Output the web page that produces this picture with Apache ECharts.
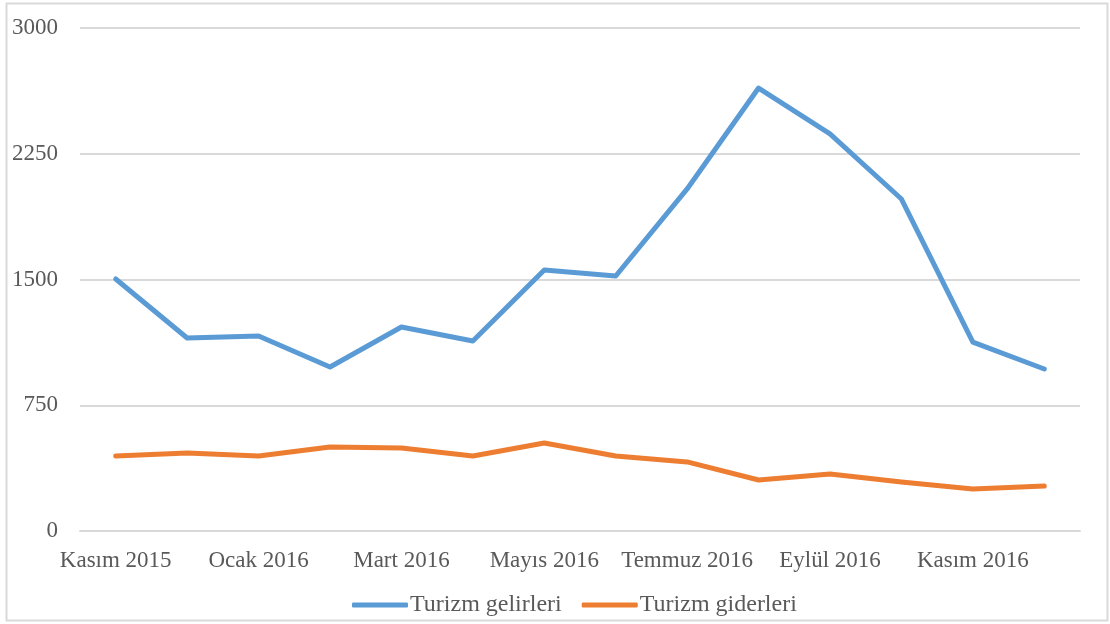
<!DOCTYPE html>
<html><head><meta charset="utf-8">
<script src="https://cdn.jsdelivr.net/npm/echarts@6/dist/echarts.min.js"></script>
<style>html,body{margin:0;padding:0;background:#fff}#c{width:1110px;height:624px}</style>
</head><body><div id="c"></div>
<script>
const categories = ['Kasım 2015','Aralık 2015','Ocak 2016','Şubat 2016','Mart 2016','Nisan 2016','Mayıs 2016','Haziran 2016','Temmuz 2016','Ağustos 2016','Eylül 2016','Ekim 2016','Kasım 2016','Aralık 2016'];
const gelirler = [1503, 1151, 1163, 978, 1217, 1133, 1557, 1521, 2040, 2642, 2368, 1980, 1127, 966];
const giderler = [447, 465, 447, 501, 495, 447, 525, 447, 412, 304, 340, 292, 250, 268];
const seriesNames = ['Turizm gelirleri', 'Turizm giderleri'];
const yTicks = {min: 0, max: 3000, interval: 750};

const font = 'Liberation Serif, Times New Roman, serif';
const chart = echarts.init(document.getElementById('c'));
chart.setOption({
  animation: false,
  color: ['#5b9bd5', '#ed7d31'],
  graphic: [{type: 'rect', shape: {x: 6.5, y: 3.5, width: 1101, height: 617}, style: {fill: 'none', stroke: '#d9d9d9', lineWidth: 2}}],
  grid: {left: 80, right: 30, top: 28, bottom: 93},
  legend: {
    top: 593, left: 352, padding: 0, itemWidth: 56, itemHeight: 5, itemGap: 20,
    icon: 'roundRect',
    textStyle: {fontFamily: font, fontSize: 24, color: '#595959', padding: [0, 0, 0, -3]},
    data: seriesNames
  },
  xAxis: {
    type: 'category', data: categories, boundaryGap: true,
    axisLine: {lineStyle: {color: '#d9d9d9', width: 2}},
    axisTick: {show: false},
    axisLabel: {interval: 1, fontFamily: font, fontSize: 23, color: '#595959', margin: 18}
  },
  yAxis: {
    type: 'value', min: yTicks.min, max: yTicks.max, interval: yTicks.interval,
    axisLine: {show: false}, axisTick: {show: false},
    splitLine: {lineStyle: {color: '#d9d9d9', width: 2}},
    axisLabel: {fontFamily: font, fontSize: 23, color: '#595959', margin: 22, formatter: v => String(v)}
  },
  series: [
    {name: seriesNames[0], type: 'line', data: gelirler, symbol: 'none', lineStyle: {width: 5, cap: 'round', join: 'round'}},
    {name: seriesNames[1], type: 'line', data: giderler, symbol: 'none', lineStyle: {width: 5, cap: 'round', join: 'round'}}
  ]
});
</script></body></html>
